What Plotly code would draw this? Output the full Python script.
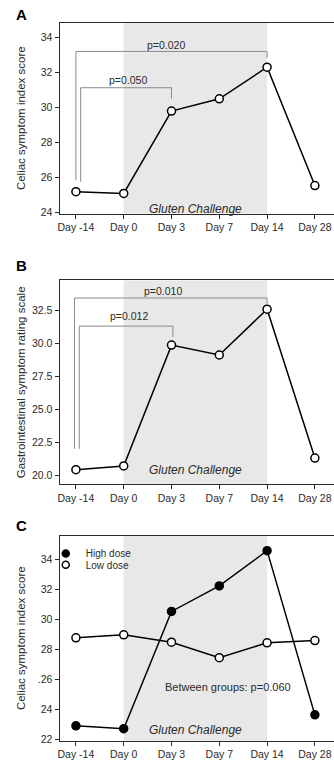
import plotly.graph_objects as go

# ---------------- data ----------------
days = ["Day -14", "Day 0", "Day 3", "Day 7", "Day 14", "Day 28"]
day_pos = [0, 1, 2, 3, 4, 5]

csi_a = [25.2, 25.1, 29.8, 30.5, 32.3, 25.55]
gsrs_b = [20.42, 20.70, 29.86, 29.11, 32.58, 21.30]
high_dose_c = [22.92, 22.73, 30.54, 32.24, 34.59, 23.65]
low_dose_c = [28.78, 28.98, 28.49, 27.46, 28.45, 28.60]

# significance brackets: (x_left, x_right, y_top, y_left_end, y_right_end, label)
brackets_a = [(0.0, 4.0, 33.2, 25.85, 32.83, "p=0.020"),
              (0.1, 2.0, 31.13, 25.76, 30.51, "p=0.050")]
brackets_b = [(-0.03, 4.0, 33.43, 22.0, 32.92, "p=0.010"),
              (0.07, 2.03, 31.3, 22.0, 30.47, "p=0.012")]

ticks_a = [24, 26, 28, 30, 32, 34]
ticks_b = [20.0, 22.5, 25.0, 27.5, 30.0, 32.5]
ticks_c = [22, 24, 26, 28, 30, 32, 34]
ticklabels_c = ["22", "24", ".26", "28", "30", "32", "34"]

challenge_start, challenge_end = 1, 4

FONT = "Liberation Sans, Arial, sans-serif"
DARK = "#2b2b2b"
GRAY = "#8a8a8a"
SHADE = "#e8e8e8"

fig = go.Figure()

W, H = 334, 771
def py(pix):
    return 1 - pix / H

panels = {
    "a": dict(xa="x", ya="y", dom=(py(215), py(23)), rng=[23.95, 34.83]),
    "b": dict(xa="x2", ya="y2", dom=(py(487.3), py(282.3)), rng=[19.32, 34.76]),
    "c": dict(xa="x3", ya="y3", dom=(py(745.5), py(539.3)), rng=[21.93, 35.58]),
}

line_style = dict(color="black", width=1.5)
open_marker = dict(symbol="circle", size=8, color="white", line=dict(color="black", width=1.5))
filled_marker = dict(symbol="circle", size=8, color="black", line=dict(color="black", width=1.5))

# Panel A
fig.add_trace(go.Scatter(x=day_pos, y=csi_a, mode="lines+markers", line=line_style,
                         marker=open_marker, xaxis="x", yaxis="y", showlegend=False))
# Panel B
fig.add_trace(go.Scatter(x=day_pos, y=gsrs_b, mode="lines+markers", line=line_style,
                         marker=open_marker, xaxis="x2", yaxis="y2", showlegend=False))
# Panel C
fig.add_trace(go.Scatter(x=day_pos, y=high_dose_c, mode="lines+markers", line=line_style,
                         marker=filled_marker, xaxis="x3", yaxis="y3", name="High dose",
                         showlegend=False))
fig.add_trace(go.Scatter(x=day_pos, y=low_dose_c, mode="lines+markers", line=line_style,
                         marker=open_marker, xaxis="x3", yaxis="y3", name="Low dose",
                         showlegend=False))
# legend entries (marker only, as in the original key)
fig.add_trace(go.Scatter(x=[None], y=[None], mode="markers",
                         marker=dict(symbol="circle", size=7, color="black",
                                     line=dict(color="black", width=1.5)),
                         xaxis="x3", yaxis="y3", name="High dose", legend="legend"))
fig.add_trace(go.Scatter(x=[None], y=[None], mode="markers",
                         marker=dict(symbol="circle", size=7, color="white",
                                     line=dict(color="black", width=1.5)),
                         xaxis="x3", yaxis="y3", name="Low dose", legend="legend2"))

# brackets
def add_brackets(brs, xa, ya, label_pos):
    for (xl, xr, yt, yl, yr, lab), (lx, ly) in zip(brs, label_pos):
        fig.add_trace(go.Scatter(x=[xl, xl, xr, xr], y=[yl, yt, yt, yr], mode="lines",
                                 line=dict(color=GRAY, width=1), xaxis=xa, yaxis=ya,
                                 showlegend=False, hoverinfo="skip"))
        fig.add_annotation(x=lx, y=ly, xref=xa, yref=ya, text=lab, showarrow=False,
                           font=dict(family=FONT, size=10.5, color=DARK))

add_brackets(brackets_a, "x", "y", [(1.89, 33.59), (1.10, 31.55)])
add_brackets(brackets_b, "x2", "y2", [(1.83, 33.93), (1.12, 32.05)])

# shading
for key, p in panels.items():
    fig.add_shape(type="rect", xref=p["xa"], yref=p["ya"] + " domain",
                  x0=challenge_start, x1=challenge_end, y0=0, y1=1,
                  fillcolor=SHADE, line=dict(width=0), layer="below")

# gluten challenge labels
for xa, ya, yv in [("x", "y", 24.2), ("x2", "y2", 20.38), ("x3", "y3", 22.66)]:
    fig.add_annotation(x=2.51, y=yv, xref=xa, yref=ya, text="<i>Gluten Challenge</i>",
                       showarrow=False, font=dict(family=FONT, size=12, color=DARK))

fig.add_annotation(x=3.19, y=25.48, xref="x3", yref="y3", text="Between groups: p=0.060",
                   showarrow=False, font=dict(family=FONT, size=11, color=DARK))

# panel letters
for letter, ypix in [("A", 15), ("B", 267.5), ("C", 529)]:
    fig.add_annotation(x=19.5 / W, y=py(ypix), xref="paper", yref="paper", text=f"<b>{letter}</b>",
                       showarrow=False, font=dict(family=FONT, size=15, color="black"),
                       xanchor="center", yanchor="middle")

# y-axis titles
for title, p in [("Celiac symptom index score", panels["a"]),
                 ("Gastrointestinal symptom rating scale", panels["b"]),
                 ("Celiac symptom index score", panels["c"])]:
    fig.add_annotation(x=19 / W, y=(p["dom"][0] + p["dom"][1]) / 2, xref="paper", yref="paper",
                       text=title, textangle=-90, showarrow=False,
                       font=dict(family=FONT, size=11.5, color=DARK),
                       xanchor="center", yanchor="middle")

xaxis_common = dict(range=[-0.34, 5.4], tickvals=day_pos, ticktext=days, showgrid=False,
                    zeroline=False, showline=True, linecolor=DARK, linewidth=1.3, mirror=True,
                    ticks="outside", ticklen=4, tickwidth=1, tickcolor=DARK,
                    tickfont=dict(family=FONT, size=10.5, color=DARK), domain=[58 / W, 1.0],
                    fixedrange=True)
yaxis_common = dict(showgrid=False, zeroline=False, showline=True, linecolor=DARK, linewidth=1.3,
                    mirror=False, ticks="outside", ticklen=4, tickwidth=1, tickcolor=DARK,
                    tickfont=dict(family=FONT, size=10.5, color=DARK), fixedrange=True)

legend_common = dict(xanchor="left", yanchor="middle", bgcolor="rgba(0,0,0,0)",
                     font=dict(family=FONT, size=10, color=DARK), borderwidth=0,
                     itemwidth=30, tracegroupgap=0)

fig.update_layout(
    width=W, height=H,
    margin=dict(l=0, r=0, t=0, b=0),
    paper_bgcolor="white", plot_bgcolor="rgba(0,0,0,0)",
    font=dict(family=FONT, color=DARK),
    xaxis=dict(**xaxis_common, anchor="y"),
    xaxis2=dict(**xaxis_common, anchor="y2"),
    xaxis3=dict(**xaxis_common, anchor="y3"),
    yaxis=dict(**yaxis_common, anchor="x", domain=list(panels["a"]["dom"]), range=panels["a"]["rng"],
               tickvals=ticks_a),
    yaxis2=dict(**yaxis_common, anchor="x2", domain=list(panels["b"]["dom"]), range=panels["b"]["rng"],
                tickvals=ticks_b, tickformat=".1f"),
    yaxis3=dict(**yaxis_common, anchor="x3", domain=list(panels["c"]["dom"]), range=panels["c"]["rng"],
                tickvals=ticks_c, ticktext=ticklabels_c),
    legend=dict(x=44 / W, y=py(557), **legend_common),
    legend2=dict(x=44 / W, y=py(568.5), **legend_common),
    showlegend=True,
)

fig.write_html("out.html")
